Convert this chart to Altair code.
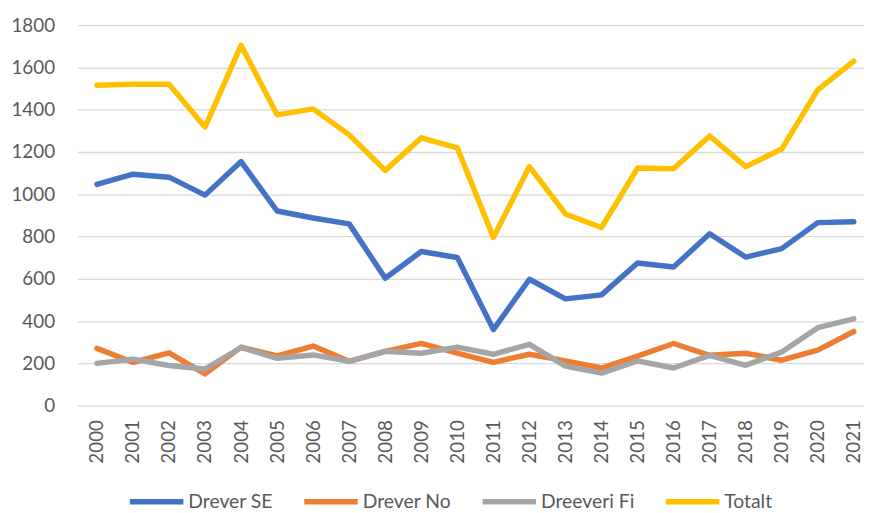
import altair as alt
import pandas as pd

years = [str(y) for y in range(2000, 2022)]
drever_se = [1047, 1095, 1081, 996, 1155, 921, 888, 860, 603, 729, 701, 360, 598, 505, 524, 675, 656, 813, 703, 743, 866, 870]
drever_no = [271, 205, 250, 150, 277, 235, 282, 210, 257, 295, 248, 205, 243, 212, 178, 234, 294, 238, 248, 215, 263, 351]
dreeveri_fi = [200, 220, 190, 173, 275, 224, 240, 210, 257, 248, 277, 243, 290, 187, 154, 212, 178, 238, 191, 254, 369, 411]
totalt = [1516, 1521, 1521, 1318, 1705, 1376, 1404, 1281, 1113, 1267, 1220, 796, 1131, 907, 843, 1124, 1121, 1276, 1131, 1214, 1494, 1630]

series_names = ["Drever SE", "Drever No", "Dreeveri Fi", "Totalt"]
series_colors = ["#4472C4", "#ED7D31", "#A5A5A5", "#FFC000"]

rows = []
for name, vals in zip(series_names, [drever_se, drever_no, dreeveri_fi, totalt]):
    for i, (y, v) in enumerate(zip(years, vals)):
        rows.append({"År": y, "Serie": name, "Antal": v, "order": series_names.index(name)})
df = pd.DataFrame(rows)

FONT = "Lato"
LABEL_COLOR = "#595959"

chart = alt.Chart(df).mark_line(strokeWidth=5.5, strokeCap="round", strokeJoin="round").encode(
    x=alt.X("År:O", sort=years,
            scale=alt.Scale(type="point", padding=0.4126, align=0.657),
            axis=alt.Axis(title=None, labelAngle=-90, labelPadding=14, ticks=False,
                          domain=False, grid=False, labelFontSize=19,
                          labelColor=LABEL_COLOR, labelFont=FONT)),
    y=alt.Y("Antal:Q", scale=alt.Scale(domain=[0, 1800], nice=False),
            axis=alt.Axis(title=None, values=list(range(0, 1801, 200)), format="d",
                          ticks=False, domain=False, gridColor="#D9D9D9", gridWidth=1.3,
                          labelPadding=23, labelFontSize=19, labelColor=LABEL_COLOR,
                          labelFont=FONT)),
    color=alt.Color("Serie:N", sort=series_names,
                    scale=alt.Scale(domain=series_names, range=series_colors),
                    legend=alt.Legend(title=None, orient="none", direction="horizontal",
                                      legendX=50, legendY=451,
                                      symbolType="stroke", symbolSize=2916,
                                      symbolStrokeWidth=5.5, labelFontSize=19.5,
                                      labelFont=FONT, labelColor=LABEL_COLOR,
                                      labelOffset=2, columnPadding=20)),
    detail="Serie:N",
    order="order:Q",
).properties(
    width=794,
    height=384,
    autosize=alt.AutoSizeParams(type="none"),
    padding={"left": 70, "top": 15, "right": 0, "bottom": 106},
).configure_view(stroke=None)

chart.save("out.html", embed_options={"renderer": "svg", "actions": False})
